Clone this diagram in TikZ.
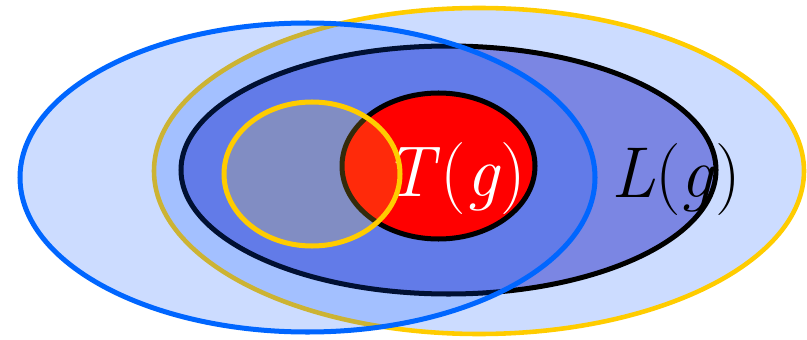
\documentclass[tikz,border=0pt]{standalone}
\usepackage{fontspec}
\usepackage{xcolor}
\usepackage{tikz}
\definecolor{cHaze}{HTML}{0050FF}
\definecolor{cRing}{HTML}{0066FF}
\definecolor{cGold}{HTML}{FFCC00}
\definecolor{cLang}{HTML}{7B86E3}
\definecolor{cTree}{HTML}{FF0000}
\tikzset{ring/.style={line width=2.85pt},
  haze/.style={fill=cHaze,fill opacity=0.2},
  setlabel/.style={font=\fontsize{41}{41}\selectfont,anchor=base,inner sep=0pt}}

\begin{document}
\begin{tikzpicture}
  \useasboundingbox (0,0) rectangle (16.14,6.78);
  % outer sets
  \draw[draw=cGold,haze,line width=2.6pt] (9.58,3.36) ellipse (6.5 and 3.26);
  \draw[ring,fill=cLang] (8.97,3.38) ellipse (5.35 and 2.48);
  \draw[draw=cRing,haze,ring] (6.15,3.23) ellipse (5.75 and 3.09);
  % inner sets
  \draw[ring,fill=cTree] (8.77,3.46) ellipse (1.93 and 1.46);
  \node[setlabel,white] (tg) at (9.10,2.86) {\textit{T}(\textit{g})};
  \draw[ring,draw=cGold,fill=cGold!80!white,fill opacity=0.2] (6.24,3.30) ellipse (1.76 and 1.44);
  \node[setlabel] (lg) at (13.52,2.84) {\textit{L}(\textit{g})};
\end{tikzpicture}
\end{document}
